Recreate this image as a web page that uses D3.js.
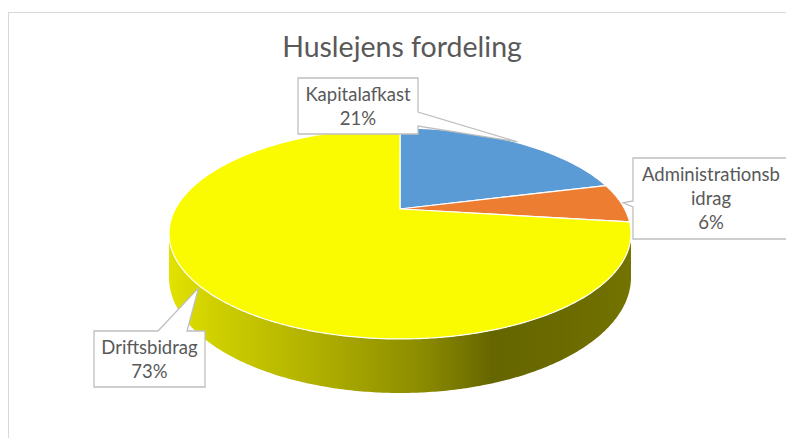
<!DOCTYPE html>
<html>
<head>
<meta charset="utf-8">
<script src="https://cdn.jsdelivr.net/npm/d3@7"></script>
<style>
  body { margin: 0; background: #fff; }
  text { font-family: Lato, "Liberation Sans", sans-serif; fill: #595959; }
</style>
</head>
<body>
<div class="chart"></div>
<script>
// data
const categories = ["Kapitalafkast", "Administrationsbidrag", "Driftsbidrag"];
const shares = [21, 6, 73];
const sliceColors = ["#5b9bd5", "#ed7d31", "#fafa00"];
// how the labels are wrapped in the boxes
const labelLines = [["Kapitalafkast"], ["Administrationsb", "idrag"], ["Driftsbidrag"]];

const W = 786, H = 438;

// perspective ellipse for the pie top
const cx = 400, cy = 209, A = 224.7, B = 99.8, k = 0.232, depth = 41.5;

const svg = d3.select(".chart").append("svg")
    .attr("width", W)
    .attr("height", H);

// chart area border
svg.append("rect")
    .attr("x", 8.5).attr("y", 12.5)
    .attr("width", W + 20).attr("height", H + 20)
    .attr("fill", "none")
    .attr("stroke", "#d9d9d9");

svg.append("text")
    .attr("x", 402).attr("y", 57)
    .attr("text-anchor", "middle")
    .style("font-size", "28.5px")
    .text("Huslejens fordeling");

const pie = d3.pie().sort(null).startAngle(0).endAngle(2 * Math.PI);
const arcs = pie(shares);

// angle (clockwise from 12 o'clock) -> screen point
function proj(a, r = 1, dz = 0) {
    const u = r * Math.sin(a), v = -r * Math.cos(a);
    const s = 1 / (1 - k * v);
    return [cx + A * u * s, cy + B * v * s + dz * s];
}

function sample(a0, a1, r, dz) {
    const n = Math.max(2, Math.ceil((a1 - a0) / 0.01));
    return d3.range(n + 1).map(i => proj(a0 + (a1 - a0) * i / n, r, dz));
}

// side gradient
const defs = svg.append("defs");
const grad = defs.append("linearGradient")
    .attr("id", "sideGrad")
    .attr("gradientUnits", "userSpaceOnUse")
    .attr("x1", cx - 231).attr("x2", cx + 231)
    .attr("y1", 0).attr("y2", 0);
[[0, "#e2e200"], [0.1, "#cfcf00"], [0.35, "#abab00"], [0.55, "#8b8b00"],
 [0.7, "#666600"], [0.85, "#6a6a00"], [1, "#737300"]].forEach(s => {
    grad.append("stop").attr("offset", s[0]).attr("stop-color", s[1]);
});

// the visible (front) part of the rim
const aR = Math.acos(-k), aL = 2 * Math.PI - Math.acos(-k);
arcs.forEach((d, i) => {
    const a0 = Math.max(d.startAngle, aR), a1 = Math.min(d.endAngle, aL);
    if (a1 <= a0) return;
    const top = sample(a0, a1, 1, 0);
    const bottom = sample(a0, a1, 1, depth).reverse();
    svg.append("path")
        .attr("d", d3.line()(top.concat(bottom)) + "Z")
        .attr("fill", i == 2 ? "url(#sideGrad)" : d3.color(sliceColors[i]).darker(1));
});

// top faces
svg.selectAll(".slice")
    .data(arcs)
    .enter()
    .append("path")
    .attr("class", "slice")
    .attr("d", d => d3.line()([[cx, cy]].concat(sample(d.startAngle, d.endAngle, 1, 0))) + "Z")
    .attr("fill", (d, i) => sliceColors[i])
    .attr("stroke", "#fff")
    .attr("stroke-width", 1.2)
    .attr("stroke-linejoin", "round");

// callout boxes: x, y, w, h, side with pointer, pointer base offsets
const boxes = [
    {x: 298, y: 78, w: 120, h: 56, side: "right", b0: 34, b1: 48},
    {x: 633, y: 158, w: 158, h: 81, side: "left", b0: 43, b1: 49},
    {x: 94, y: 331, w: 111, h: 56, side: "top", b0: 64, b1: 93}
];

function callout(b, t) {
    const {x, y, w, h} = b;
    if (b.side == "right")
        return `M${x},${y}H${x + w}V${y + b.b0}L${t[0]},${t[1]}L${x + w},${y + b.b1}V${y + h}H${x}Z`;
    if (b.side == "left")
        return `M${x},${y}H${x + w}V${y + h}H${x}V${y + b.b1}L${t[0]},${t[1]}L${x},${y + b.b0}Z`;
    return `M${x},${y}H${x + b.b0}L${t[0]},${t[1]}L${x + b.b1},${y}H${x + w}V${y + h}H${x}Z`;
}

arcs.forEach((d, i) => {
    const b = boxes[i];
    const mid = (d.startAngle + d.endAngle) / 2;
    const tip = proj(mid, 1.01, 0);
    svg.append("path")
        .attr("d", callout(b, tip))
        .attr("fill", "#fff")
        .attr("stroke", "#bfbfbf")
        .attr("stroke-width", 1.3);

    const pct = Math.round((d.endAngle - d.startAngle) / (2 * Math.PI) * 100) + "%";
    const lines = labelLines[i].concat([pct]);
    const t = svg.append("text")
        .attr("text-anchor", "middle")
        .style("font-size", "18.5px");
    lines.forEach((ln, j) => {
        t.append("tspan")
            .attr("x", b.x + b.w / 2 - (i == 1 ? 1 : 0))
            .attr("y", b.y + 23 + j * 24)
            .text(ln);
    });
});
</script>
</body>
</html>
